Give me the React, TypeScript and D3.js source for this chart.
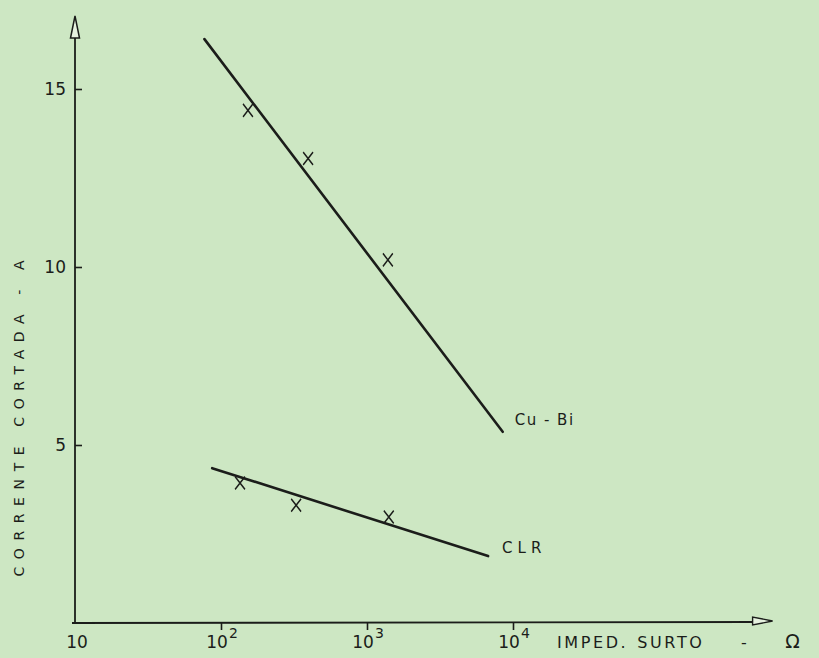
import React, { useEffect, useRef } from 'react';
import * as d3 from 'd3';

// Surge impedance (ohm) vs chopped current (A)
const cuBiLine = [{ z: 77, i: 16.4 }, { z: 8500, i: 5.37 }];
const cuBiPoints = [{ z: 153, i: 14.4 }, { z: 395, i: 13.05 }, { z: 1390, i: 10.2 }];
const clrLine = [{ z: 87, i: 4.35 }, { z: 6750, i: 1.88 }];
const clrPoints = [{ z: 135, i: 3.93 }, { z: 327, i: 3.31 }, { z: 1410, i: 2.98 }];

const xTicks = [10, 100, 1000, 10000];
const xTickLabels = ['10', '10|2', '10|3', '10|4'];
const yTicks = [5, 10, 15];
const xTitleWords = ['IMPED.', 'SURTO', '-', 'Ω'];

const xAxisEnd = 6e5; // where the hand-drawn arrow ends
const yAxisEnd = 17.05;

const INK = '#1b1d1a';
const PAPER = '#cde7c3';

const App = () => {
  const ref = useRef<SVGSVGElement>(null);

  useEffect(() => {
    const svg = d3.select(ref.current);
    svg.selectAll('*').remove();

    const width = 819;
    const height = 658;

    const x = d3.scaleLog().domain([10, 10000]).range([75, 513]);
    const y = d3.scaleLinear().domain([0, 15]).range([623, 89]);

    svg.attr('width', width).attr('height', height);

    // paper
    svg.append('rect').attr('width', width).attr('height', height).attr('fill', PAPER);

    const font = '"DejaVu Sans", sans-serif';

    // Y axis
    const yAxis = d3.axisLeft(y).tickValues(yTicks).tickSizeInner(-7).tickSizeOuter(0).tickPadding(9);
    const gy = svg.append('g').attr('transform', `translate(${x(10)},0)`).call(yAxis);
    gy.select('.domain').remove();
    gy.selectAll('line').attr('stroke', INK).attr('stroke-width', 1.6);
    gy.selectAll('text')
      .attr('fill', INK)
      .style('font-family', font)
      .style('font-size', '17px');

    svg.append('line')
      .attr('x1', x(10)).attr('x2', x(10))
      .attr('y1', y(0)).attr('y2', y(yAxisEnd) + 8)
      .attr('stroke', INK).attr('stroke-width', 1.8);
    // hollow arrowhead on y axis
    const ay = y(yAxisEnd);
    svg.append('path')
      .attr('d', `M${x(10)},${ay} L${x(10) - 4.5},${ay + 22} L${x(10) + 4.5},${ay + 22} Z`)
      .attr('fill', '#e6f2df').attr('stroke', INK).attr('stroke-width', 1.5);

    // X axis
    const xAxis = d3.axisBottom(x).tickValues(xTicks).tickSizeInner(7).tickSizeOuter(0).tickFormat(() => '');
    const gx = svg.append('g').attr('transform', `translate(0,${y(0)})`).call(xAxis);
    gx.select('.domain').remove();
    gx.selectAll('line').attr('stroke', INK).attr('stroke-width', 1.6);
    gx.selectAll('g.tick').filter((d) => d === 10).remove();

    svg.append('line')
      .attr('x1', x(10) - 3).attr('x2', x(xAxisEnd) - 16)
      .attr('y1', y(0)).attr('y2', y(0) - 1)
      .attr('stroke', INK).attr('stroke-width', 1.8);
    const ax = x(xAxisEnd);
    svg.append('path')
      .attr('d', `M${ax},${y(0) - 2} L${ax - 20},${y(0) - 6} L${ax - 20},${y(0) + 2} Z`)
      .attr('fill', '#e6f2df').attr('stroke', INK).attr('stroke-width', 1.4);

    // x tick labels with superscripts
    xTicks.forEach((t, k) => {
      const [base, sup] = xTickLabels[k].split('|');
      svg.append('text')
        .attr('x', x(t) - (sup ? 4 : -2))
        .attr('y', y(0) + 25)
        .attr('text-anchor', 'middle')
        .attr('fill', INK)
        .style('font-family', font)
        .style('font-size', '17px')
        .text(base);
      if (sup) {
        svg.append('text')
          .attr('x', x(t) + 8)
          .attr('y', y(0) + 15)
          .attr('fill', INK)
          .style('font-family', font)
          .style('font-size', '14px')
          .text(sup);
      }
    });

    // x axis title, words spread like the hand lettering
    const xTitle = svg.append('text')
      .attr('x', 557)
      .attr('y', y(0) + 25)
      .attr('fill', INK)
      .style('font-family', font)
      .style('font-size', '16px')
      .style('letter-spacing', '2.6px');
    const wordGaps = [0, 9, 36, 36];
    xTitleWords.forEach((w, k) => {
      const ts = xTitle.append('tspan').attr('dx', wordGaps[k]).text(w);
      if (w === 'Ω') ts.style('font-size', '19px');
    });

    // y axis title
    svg.append('text')
      .attr('transform', `translate(20,${y(5.85)}) rotate(-90)`)
      .attr('text-anchor', 'middle')
      .attr('dominant-baseline', 'middle')
      .attr('fill', INK)
      .style('font-family', font)
      .style('font-size', '14px')
      .style('letter-spacing', '7.6px')
      .text('CORRENTE  CORTADA - A');

    // fitted lines
    const line = d3.line<{ z: number; i: number }>().x((d) => x(d.z)).y((d) => y(d.i));
    [cuBiLine, clrLine].forEach((data) => {
      svg.append('path')
        .datum(data)
        .attr('fill', 'none')
        .attr('stroke', INK)
        .attr('stroke-width', 2.6)
        .attr('stroke-linecap', 'round')
        .attr('d', line);
    });

    // measured points
    const cross = d3.symbol(d3.symbolX, 90);
    [...cuBiPoints, ...clrPoints].forEach((p) => {
      svg.append('path')
        .attr('transform', `translate(${x(p.z)},${y(p.i)}) scale(0.85,1.1)`)
        .attr('d', cross())
        .attr('fill', 'none')
        .attr('stroke', INK)
        .attr('stroke-width', 1.6);
    });

    // series labels
    const cuEnd = cuBiLine[cuBiLine.length - 1];
    svg.append('text')
      .attr('x', x(cuEnd.z) + 12)
      .attr('y', y(cuEnd.i) - 11)
      .attr('dominant-baseline', 'middle')
      .attr('fill', INK)
      .style('font-family', font)
      .style('font-size', '15px')
      .style('letter-spacing', '1.5px')
      .text('Cu - Bi');

    const clrEnd = clrLine[clrLine.length - 1];
    svg.append('text')
      .attr('x', x(clrEnd.z) + 14)
      .attr('y', y(clrEnd.i) - 8)
      .attr('dominant-baseline', 'middle')
      .attr('fill', INK)
      .style('font-family', font)
      .style('font-size', '15px')
      .style('letter-spacing', '5px')
      .text('CLR');
  }, []);

  return (
    <svg
      ref={ref}
      style={{ position: 'absolute', left: 0, top: 0, display: 'block' }}
    />
  );
};

export default App;
